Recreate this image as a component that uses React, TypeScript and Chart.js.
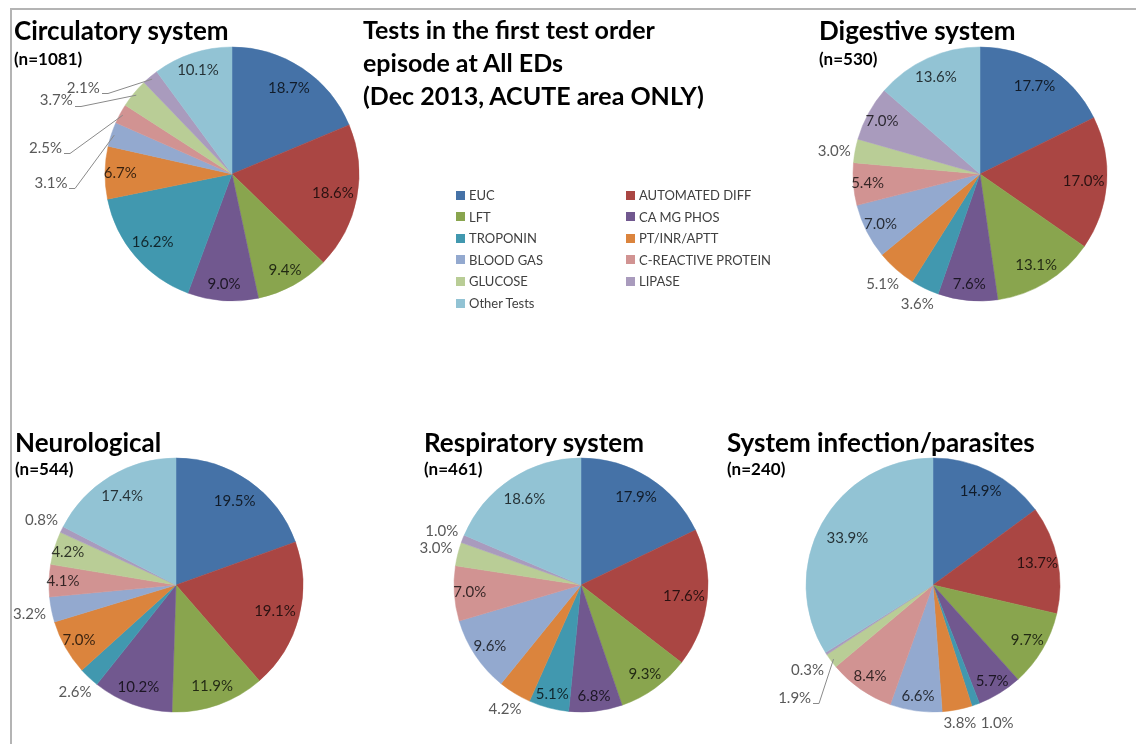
import React, { useEffect, useRef } from 'react';
import { Chart, registerables } from 'chart.js';

Chart.register(...registerables);

// ---------- data ----------
const testNames = [
  'EUC',
  'AUTOMATED DIFF',
  'LFT',
  'CA MG PHOS',
  'TROPONIN',
  'PT/INR/APTT',
  'BLOOD GAS',
  'C-REACTIVE PROTEIN',
  'GLUCOSE',
  'LIPASE',
  'Other Tests',
];

const circulatoryValues = [18.7, 18.6, 9.4, 9.0, 16.2, 6.7, 3.1, 2.5, 3.7, 2.1, 10.1];
const digestiveValues = [17.7, 17.0, 13.1, 7.6, 3.6, 5.1, 7.0, 5.4, 3.0, 7.0, 13.6];
const neurologicalValues = [19.5, 19.1, 11.9, 10.2, 2.6, 7.0, 3.2, 4.1, 4.2, 0.8, 17.4];
const respiratoryValues = [17.9, 17.6, 9.3, 6.8, 5.1, 4.2, 9.6, 7.0, 3.0, 1.0, 18.6];
const infectionValues = [14.9, 13.7, 9.7, 5.7, 1.0, 3.8, 6.6, 8.4, 1.9, 0.3, 33.9];

const panelTitles = [
  'Circulatory system',
  'Digestive system',
  'Neurological',
  'Respiratory system',
  'System infection/parasites',
];
const panelCounts = [1081, 530, 544, 461, 240];
const panelValues = [
  circulatoryValues,
  digestiveValues,
  neurologicalValues,
  respiratoryValues,
  infectionValues,
];

const mainTitleLines = [
  'Tests in the first test order',
  'episode at All EDs',
  '(Dec 2013, ACUTE area ONLY)',
];

// ---------- styles / layout ----------
const testColors = [
  '#4572A7',
  '#AA4643',
  '#89A54E',
  '#71588F',
  '#4198AF',
  '#DB843D',
  '#93A9CF',
  '#D19392',
  '#B9CD96',
  '#A99BBD',
  '#92C3D4',
];

const FONT = 'Lato, "Open Sans", "DejaVu Sans", sans-serif';
const PIE_RADIUS = 127;
const CANVAS_W = 440;
const CANVAS_H = 340;

// label placement: which slices get outside labels, and manual label drags [dx, dy, leaderLine]
const panelLayout = [
  {
    cx: 232, cy: 174, tx: 14, ty: 17, nx: 14, ny: 50,
    outside: [6, 7, 8, 9],
    shift: { 6: [-39, 56, 1], 7: [-55, 45, 1], 8: [-61, 21, 1], 9: [-54, 27, 1] } as Record<number, number[]>,
  },
  {
    cx: 980, cy: 174, tx: 819, ty: 17, nx: 819, ny: 50,
    outside: [4, 5, 8],
    shift: { 8: [1, 4, 0] } as Record<number, number[]>,
  },
  {
    cx: 176, cy: 585, tx: 15, ty: 429, nx: 15, ny: 460,
    outside: [4, 6, 9],
    shift: {} as Record<number, number[]>,
  },
  {
    cx: 581, cy: 585, tx: 424, ty: 429, nx: 424, ny: 460,
    outside: [5, 8, 9],
    shift: {} as Record<number, number[]>,
  },
  {
    cx: 933, cy: 585, tx: 727, ty: 429, nx: 727, ny: 460,
    outside: [4, 5, 8, 9],
    shift: { 4: [16, 3, 0], 8: [-19, 24, 1], 9: [0, 5, 0] } as Record<number, number[]>,
  },
];

function makeLabelPlugin(outside: number[], shift: Record<number, number[]>) {
  return {
    id: 'pieLabels',
    afterDatasetsDraw(chart: any) {
      const { ctx } = chart;
      const meta = chart.getDatasetMeta(0);
      const values = chart.data.datasets[0].data as number[];
      const total = values.reduce((a, b) => a + b, 0);
      ctx.save();
      ctx.font = `15px ${FONT}`;
      ctx.textAlign = 'center';
      ctx.textBaseline = 'middle';
      meta.data.forEach((arc: any, i: number) => {
        const p = arc.getProps(['x', 'y', 'startAngle', 'endAngle', 'outerRadius'], true);
        const mid = (p.startAngle + p.endAngle) / 2;
        const cos = Math.cos(mid);
        const sin = Math.sin(mid);
        const text = values[i].toFixed(1) + '%';
        const w = ctx.measureText(text).width;
        const frac = values[i] / total;
        if (!outside.includes(i)) {
          const f = Math.min(0.89, Math.max(0.77, 0.92 - 0.6 * frac));
          ctx.fillStyle = 'rgba(0,0,0,0.75)';
          ctx.fillText(text, p.x + cos * p.outerRadius * f, p.y + sin * p.outerRadius * f);
        } else {
          const d = p.outerRadius + 5 + (Math.abs(cos) * w) / 2 + Math.abs(sin) * 6;
          let lx = p.x + cos * d;
          let ly = p.y + sin * d;
          const s = shift[i];
          if (s) {
            lx += s[0];
            ly += s[1];
            if (s[2]) {
              const sx = Math.round(lx + w / 2 + 2);
              const sy = Math.round(ly + 5) + 0.5;
              ctx.strokeStyle = '#8a8a8a';
              ctx.lineWidth = 1;
              ctx.beginPath();
              ctx.moveTo(sx, sy);
              ctx.lineTo(sx + 6, sy);
              ctx.lineTo(p.x + cos * (p.outerRadius - 3), p.y + sin * (p.outerRadius - 3));
              ctx.stroke();
            }
          }
          ctx.fillStyle = '#595959';
          ctx.fillText(text, lx, ly);
        }
      });
      ctx.restore();
    },
  };
}

function PiePanel({ index }: { index: number }) {
  const ref = useRef<HTMLCanvasElement | null>(null);
  const lay = panelLayout[index];
  useEffect(() => {
    if (!ref.current) return;
    const chart = new Chart(ref.current, {
      type: 'pie',
      data: {
        labels: testNames,
        datasets: [
          {
            data: panelValues[index],
            backgroundColor: testColors,
            borderColor: testColors,
            borderWidth: 0.5,
            radius: PIE_RADIUS,
          } as any,
        ],
      },
      options: {
        animation: false,
        responsive: false,
        devicePixelRatio: 1,
        events: [],
        layout: { padding: 0 },
        plugins: {
          legend: { display: false },
          tooltip: { enabled: false },
          title: { display: false },
        },
      },
      plugins: [makeLabelPlugin(lay.outside, lay.shift)],
    });
    return () => chart.destroy();
  }, [index]);
  return (
    <canvas
      ref={ref}
      width={CANVAS_W}
      height={CANVAS_H}
      style={{
        position: 'absolute',
        left: lay.cx - CANVAS_W / 2,
        top: lay.cy - CANVAS_H / 2,
        width: CANVAS_W,
        height: CANVAS_H,
      }}
    />
  );
}

export default function App() {
  const titleStyle: React.CSSProperties = {
    position: 'absolute',
    fontFamily: FONT,
    fontWeight: 700,
    fontSize: 26,
    lineHeight: '26px',
    color: '#000',
    whiteSpace: 'nowrap',
  };
  const nStyle: React.CSSProperties = {
    position: 'absolute',
    fontFamily: FONT,
    fontWeight: 700,
    fontSize: 17,
    lineHeight: '17px',
    color: '#000',
    whiteSpace: 'nowrap',
  };
  return (
    <div
      style={{
        position: 'fixed',
        left: 0,
        top: 0,
        width: 1136,
        height: 744,
        overflow: 'hidden',
        background: '#fff',
      }}
    >
      <div
        style={{
          position: 'absolute',
          left: 10,
          top: 8,
          width: 1200,
          height: 800,
          borderTop: '2px solid #b4b4b4',
          borderLeft: '2px solid #b4b4b4',
        }}
      />
      {panelTitles.map((_, i) => (
        <PiePanel key={i} index={i} />
      ))}
      {panelTitles.map((t, i) => (
        <React.Fragment key={'t' + i}>
          <div style={{ ...titleStyle, left: panelLayout[i].tx, top: panelLayout[i].ty }}>{t}</div>
          <div style={{ ...nStyle, left: panelLayout[i].nx, top: panelLayout[i].ny }}>
            (n={panelCounts[i]})
          </div>
        </React.Fragment>
      ))}
      <div
        style={{
          position: 'absolute',
          left: 363,
          top: 13,
          fontFamily: FONT,
          fontWeight: 700,
          fontSize: 25,
          lineHeight: '33px',
          color: '#000',
          whiteSpace: 'nowrap',
        }}
      >
        {mainTitleLines.map((l, i) => (
          <div key={i}>{l}</div>
        ))}
      </div>
      {testNames.map((name, i) => {
        const col = i % 2;
        const row = Math.floor(i / 2);
        const cy = 195 + row * 21.6;
        const x0 = col === 0 ? 456 : 626;
        return (
          <React.Fragment key={'l' + i}>
            <div
              style={{
                position: 'absolute',
                left: x0,
                top: Math.round(cy - 4.5),
                width: 9,
                height: 9,
                background: testColors[i],
              }}
            />
            <div
              style={{
                position: 'absolute',
                left: x0 + 13,
                top: Math.round(cy - 8),
                fontFamily: FONT,
                fontSize: 13,
                lineHeight: '16px',
                color: '#404040',
                whiteSpace: 'nowrap',
              }}
            >
              {name}
            </div>
          </React.Fragment>
        );
      })}
    </div>
  );
}
